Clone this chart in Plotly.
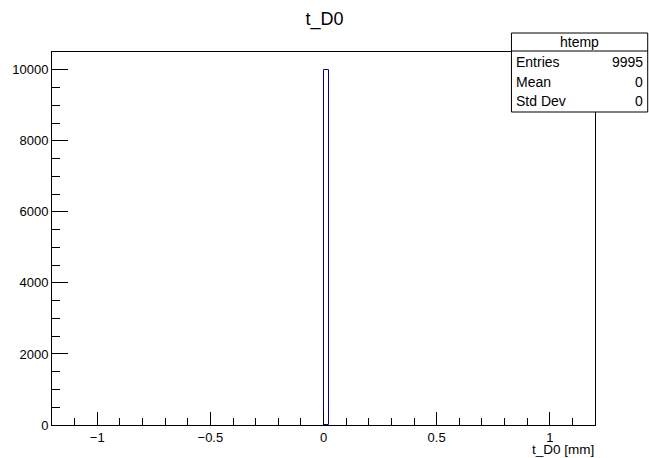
import plotly.graph_objects as go

# Data
bin_centers = [0.012]
bin_widths = [0.024]
counts = [9995]
x_range = [-1.2, 1.2]
y_range = [0, 10500]
stats_labels = ["Entries", "Mean", "Std Dev"]
stats_values = ["9995", "0", "0"]
title_text = "t_D0"
hist_name = "htemp"
x_title = "t_D0 [mm]"

W, H = 649, 458
L, R, T, B = 49, 595, 52, 425
FONT = "Liberation Sans, Arial, Helvetica, sans-serif"

def px(xp):
    return (xp - L) / (R - L)

def py(yp):
    return (B - yp) / (B - T)

fig = go.Figure()
fig.add_trace(go.Bar(
    x=bin_centers, y=counts, width=bin_widths,
    marker=dict(color="rgba(0,0,0,0)", line=dict(color="#000099", width=1)),
    showlegend=False, hoverinfo="skip",
))

fig.update_layout(
    width=W, height=H,
    margin=dict(l=L, r=W - R, t=T, b=H - B, pad=0),
    paper_bgcolor="white", plot_bgcolor="white",
    font=dict(family=FONT, size=13, color="black"),
    title=dict(text=title_text, x=0.5, xanchor="center", y=1 - 19 / H, yanchor="middle",
               font=dict(size=18, family=FONT)),
    xaxis=dict(range=x_range, showgrid=False, zeroline=False, showline=True, linecolor="black",
               linewidth=1, mirror=True, ticks="inside", ticklen=13, tickcolor="black",
               dtick=0.5, tick0=0, tickfont=dict(size=13),
               minor=dict(dtick=0.1, tick0=0, ticks="inside", ticklen=7, tickcolor="black", showgrid=False)),
    yaxis=dict(range=y_range, showgrid=False, zeroline=False, showline=True, linecolor="black",
               linewidth=1, mirror=True, ticks="inside", ticklen=16, tickcolor="black",
               dtick=2000, tick0=0, tickformat="d", tickfont=dict(size=13),
               minor=dict(dtick=500, tick0=0, ticks="inside", ticklen=8, tickcolor="black", showgrid=False)),
    bargap=0,
)

# axis title
fig.add_annotation(text=x_title, xref="paper", yref="paper", x=1, y=py(458), xanchor="right",
                   yanchor="bottom", showarrow=False, borderpad=0, font=dict(size=13.5, family=FONT))

# stats box
bx0, bx1, by0, by1 = 511, 648, 33, 112
fig.add_shape(type="rect", xref="paper", yref="paper", x0=px(bx0), x1=px(bx1), y0=py(by1), y1=py(by0),
              line=dict(color="black", width=1), fillcolor="white", layer="above")
fig.add_shape(type="line", xref="paper", yref="paper", x0=px(bx0), x1=px(bx1), y0=py(51), y1=py(51),
              line=dict(color="black", width=1), layer="above")
fig.add_annotation(text=hist_name, xref="paper", yref="paper", x=px((bx0 + bx1) / 2), y=py(42),
                   xanchor="center", yanchor="middle", showarrow=False, font=dict(size=14, family=FONT))
row_y = [62, 82, 101]
for lab, val, yy in zip(stats_labels, stats_values, row_y):
    fig.add_annotation(text=lab, xref="paper", yref="paper", x=px(bx0 + 3), y=py(yy),
                       xanchor="left", yanchor="middle", showarrow=False, font=dict(size=14, family=FONT))
    fig.add_annotation(text=val, xref="paper", yref="paper", x=px(bx1 - 3), y=py(yy),
                       xanchor="right", yanchor="middle", showarrow=False, font=dict(size=14, family=FONT))

fig.write_html("out.html")
